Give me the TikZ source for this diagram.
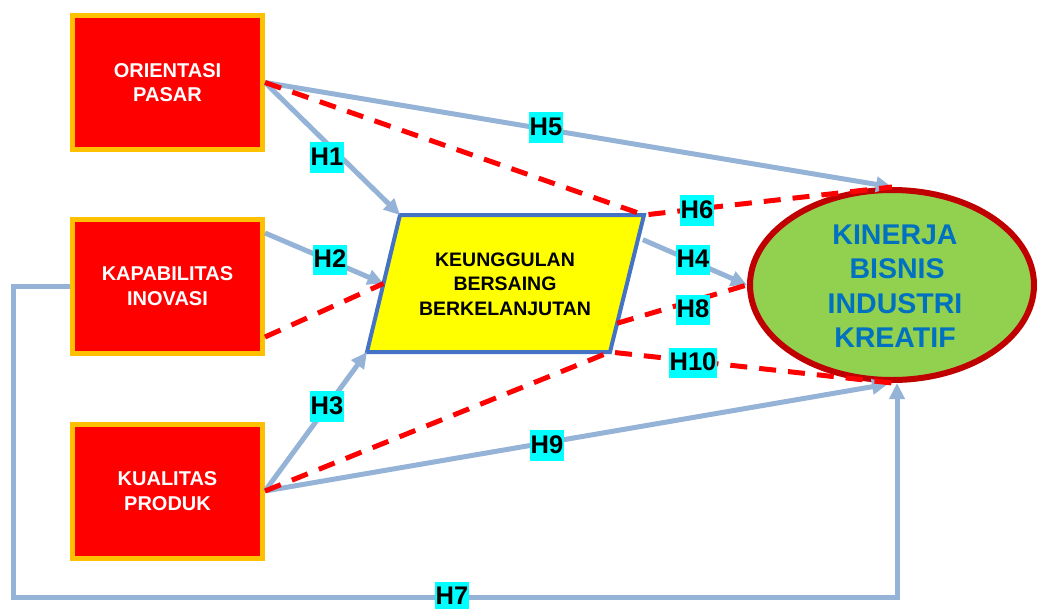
\documentclass[tikz,border=0pt]{standalone}
\usepackage{fontspec}
\setmainfont{Liberation Sans}
\usetikzlibrary{arrows.meta,shapes.geometric,calc}

\definecolor{boxred}{HTML}{FF0000}
\definecolor{boxorange}{HTML}{FFC000}
\definecolor{parafill}{HTML}{FFFF00}
\definecolor{paraline}{HTML}{4472C4}
\definecolor{ellfill}{HTML}{92D050}
\definecolor{ellline}{HTML}{C00000}
\definecolor{elltext}{HTML}{0070C0}
\definecolor{linkblue}{HTML}{95B3D7}
\definecolor{tagcyan}{HTML}{00FFFF}

\begin{document}
\begin{tikzpicture}[x=1pt,y=-1pt,
  varbox/.style={draw=boxorange, fill=boxred, line width=5pt,
    minimum width=190pt, minimum height=134pt, inner sep=0pt,
    align=center, text=white, font=\fontsize{20}{24.5}\selectfont\bfseries},
  midtext/.style={align=center, text=black, inner sep=0pt,
    font=\fontsize{19.5}{24.5}\selectfont\bfseries},
  outcome/.style={ellipse, draw=ellline, fill=ellfill, line width=6pt,
    minimum width=284pt, minimum height=190pt, inner sep=0pt},
  outtext/.style={align=center, text=elltext, inner sep=0pt,
    font=\fontsize{28.5}{34.5}\selectfont\bfseries},
  direct/.style={draw=linkblue, line width=5pt,
    -{Triangle[length=16pt,width=15pt]}},
  mediated/.style={draw=boxred, line width=5pt, dash pattern=on 17pt off 12pt},
  tag/.style={fill=tagcyan, text=black, inner xsep=0.5pt, inner ysep=4.5pt,
    text height=18.5pt, text depth=3pt,
    font=\fontsize{25.5}{25.5}\selectfont\bfseries}
]
\useasboundingbox (0,0) rectangle (1041,608);

% independent variables
\node[varbox] (op) at (167.5,82.5) {ORIENTASI\\PASAR};
\node[varbox] (ki) at (167.5,286) {KAPABILITAS\\INOVASI};
\node[varbox] (kp) at (167.5,491) {KUALITAS\\PRODUK};

% mediating variable (parallelogram)
\coordinate (ptl) at (400,215);
\coordinate (ptr) at (644,215);
\coordinate (pbr) at (610,352);
\coordinate (pbl) at (367,352);
\draw[draw=paraline, fill=parafill, line width=4pt] (ptl) -- (ptr) -- (pbr) -- (pbl) -- cycle;
\node[midtext] (kbb) at (505,284) {KEUNGGULAN\\BERSAING\\BERKELANJUTAN};

% dependent variable
\node[outcome] (kb) at (892,285) {};
\node[outtext] (kbt) at (895,286) {KINERJA\\\hspace*{4pt}BISNIS\\INDUSTRI\\KREATIF};

% helper points on the shapes' edges
\coordinate (kiup) at ($(ki.east)+(0,-53)$);
\coordinate (kilow) at ($(ki.east)+(0,51)$);
\coordinate (pleft) at ($(ptl)!0.5!(pbl)$);
\coordinate (prtop) at ($(ptr)!0.18!(pbr)+(5,0)$);
\coordinate (prlow) at ($(ptr)!0.79!(pbr)$);
\coordinate (kbsl) at ($(kb.south)+(-4,1)$);
\coordinate (kbsr) at ($(kb.south)+(5,0)$);
\coordinate (h7a) at (13,286);
\coordinate (h7b) at (13,597);
\coordinate (h7c) at (897,597);

% direct effects
\draw[direct] (op.east) -- (ptl);
\draw[direct] (op.east) -- (kb.north);
\draw[direct] (kiup) -- (pleft);
\draw[direct] (kp.east) -- (pbl);
\draw[direct] (prtop) -- (kb.west);
\draw[direct] (kp.east) -- (kbsl);
\draw[direct] (ki.west) -- (h7a) -- (h7b) -- (h7c) -- (kbsr);

% mediated effects
\draw[mediated] (op.east) -- (ptr) -- (kb.north);
\draw[mediated] (kilow) -- (pleft);
\draw[mediated] (prlow) -- (kb.west);
\draw[mediated] (kp.east) -- (pbr) -- (kb.south);

% hypothesis tags
\node[tag] (t1) at (327,157.5) {H1};
\node[tag] (t2) at (330,260) {H2};
\node[tag] (t3) at (327,406.5) {H3};
\node[tag] (t4) at (693,260) {H4};
\node[tag] (t5) at (546,127.5) {H5};
\node[tag] (t6) at (697,210.5) {H6};
\node[tag] (t7) at (452,597) {H7};
\node[tag] (t8) at (693,310) {H8};
\node[tag] (t9) at (547,445.5) {H9};
\node[tag] (t10) at (693,363) {H10};
\end{tikzpicture}
\end{document}
